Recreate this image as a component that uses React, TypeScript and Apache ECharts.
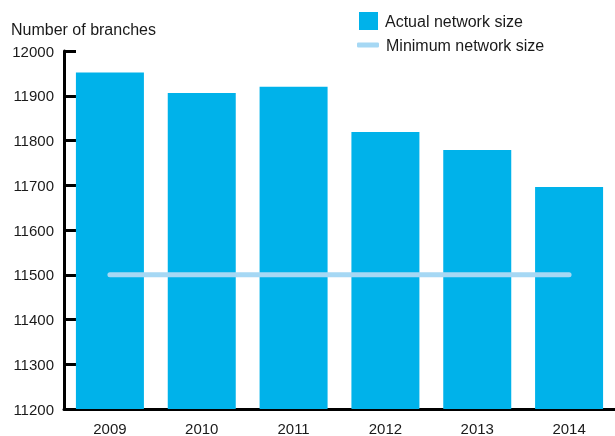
import React, { useEffect, useRef } from "react";
import * as echarts from "echarts";

const categories = ["2009", "2010", "2011", "2012", "2013", "2014"];
const actualNetworkSize = [11952, 11906, 11920, 11819, 11779, 11696];
const minimumNetworkSize = [11500, 11500, 11500, 11500, 11500, 11500];
const yMin = 11200;
const yMax = 12000;
const yStep = 100;

const FONT = "'Liberation Sans', Arial, Helvetica, sans-serif";
const TEXT = "#1a1a1a";
const BAR = "#00b2ea";
const LINE = "#a6d8f4";

export default function App() {
  const ref = useRef<HTMLDivElement>(null);
  useEffect(() => {
    if (!ref.current) return;
    const chart = echarts.init(ref.current, undefined, { renderer: "svg" });
    chart.setOption({
      animation: false,
      textStyle: { fontFamily: FONT, color: TEXT },
      title: {
        text: "Number of branches",
        left: 11,
        top: 21,
        padding: 0,
        textStyle: { fontFamily: FONT, fontSize: 16, fontWeight: "normal", color: TEXT },
      },
      legend: [
        {
          left: 359,
          top: 12,
          padding: 0,
          itemWidth: 19,
          itemHeight: 18,
          icon: "rect",
          data: ["Actual network size"],
          textStyle: { fontFamily: FONT, fontSize: 16, color: TEXT, padding: [0, 0, 0, 2] },
        },
        {
          left: 357,
          top: 37,
          padding: 0,
          itemWidth: 22,
          itemHeight: 5,
          icon: "roundRect",
          data: ["Minimum network size"],
          textStyle: { fontFamily: FONT, fontSize: 16, color: TEXT, padding: [0, 0, 0, 2] },
        },
      ],
      grid: { left: 64, top: 51, width: 558, height: 359 },
      xAxis: {
        type: "category",
        data: categories,
        boundaryGap: true,
        axisLine: { lineStyle: { color: "#000", width: 3 } },
        axisTick: { inside: true, length: 8, lineStyle: { color: "#000", width: 2.5 } },
        axisLabel: { margin: 12, fontSize: 15, color: TEXT, fontFamily: FONT },
        splitLine: { show: false },
      },
      yAxis: {
        type: "value",
        min: yMin,
        max: yMax,
        interval: yStep,
        axisLine: { show: true, lineStyle: { color: "#000", width: 3 } },
        axisTick: { show: true, inside: true, length: 12, lineStyle: { color: "#000", width: 3 } },
        axisLabel: {
          margin: 10,
          fontSize: 15,
          color: TEXT,
          fontFamily: FONT,
          formatter: (v: number) => String(v),
        },
        splitLine: { show: false },
      },
      series: [
        {
          name: "Actual network size",
          type: "bar",
          data: actualNetworkSize,
          barWidth: 68,
          itemStyle: { color: BAR },
        },
        {
          name: "Minimum network size",
          type: "line",
          data: minimumNetworkSize,
          symbol: "none",
          itemStyle: { color: LINE },
          lineStyle: { color: LINE, width: 5, cap: "round" },
          z: 3,
        },
      ],
    });
    return () => chart.dispose();
  }, []);
  return (
    <div
      ref={ref}
      style={{ position: "fixed", left: 0, top: 0, width: 615, height: 436 }}
    />
  );
}
